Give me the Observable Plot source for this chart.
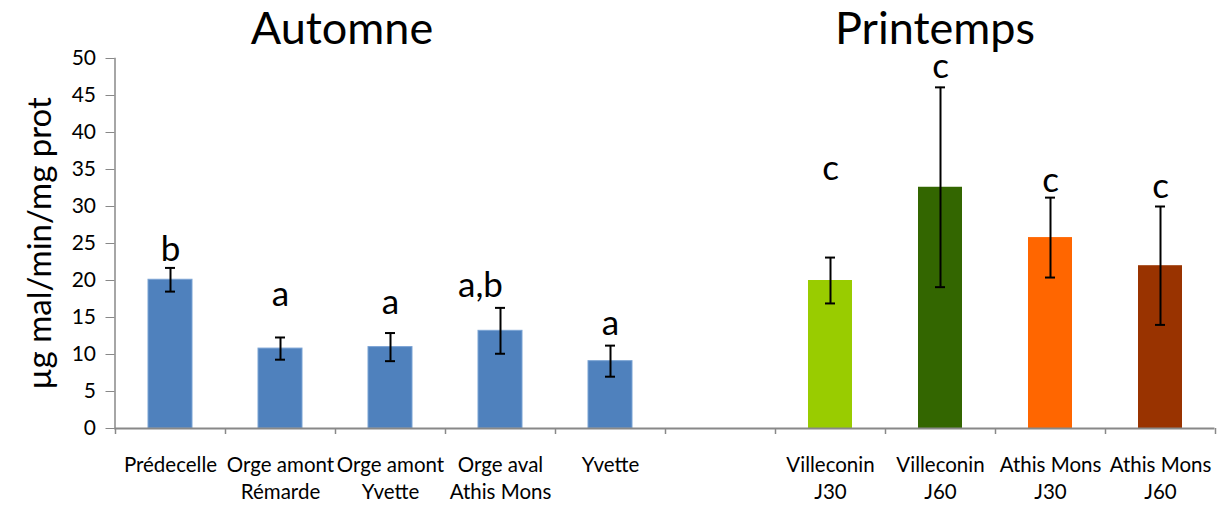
<!DOCTYPE html>
<html><head><meta charset="utf-8">
<script src="https://cdn.jsdelivr.net/npm/d3@7"></script>
<script src="https://cdn.jsdelivr.net/npm/@observablehq/plot@0.6"></script>
<style>
body{margin:0;background:#fff;font-family:Lato,sans-serif;}
#wrap{position:relative;width:1219px;height:505px;}
.title{position:absolute;top:0px;font-size:45px;transform:translateX(-50%);white-space:nowrap;line-height:1.2;color:#000;}
</style></head><body><div id="wrap"></div>
<script>
const categories = ["Prédecelle", "Orge amont\nRémarde", "Orge amont\nYvette", "Orge aval\nAthis Mons", "Yvette", " ", "Villeconin\nJ30", "Villeconin\nJ60", "Athis Mons\nJ30", "Athis Mons\nJ60"];
const means = [20.1, 10.8, 11.0, 13.2, 9.1, null, 20.0, 32.6, 25.8, 22.0];
const errors = [1.6, 1.5, 1.9, 3.1, 2.1, null, 3.1, 13.5, 5.4, 8.0];
const letters = ["b", "a", "a", "a,b", "a", null, "c", "c", "c", "c"];
const letterY = [22.7, 16.6, 15.5, 17.8, 12.7, null, 33.6, 47.3, 31.9, 31.1];
const colors = ["#4F81BD", "#4F81BD", "#4F81BD", "#4F81BD", "#4F81BD", null, "#99CC00", "#336600", "#FF6600", "#993300"];
const yTicks = [0, 5, 10, 15, 20, 25, 30, 35, 40, 45, 50];
const yLabel = "µg mal/min/mg prot";
const seasons = ["Automne", "Printemps"];

const rows = categories.map((c, i) => ({cat: c, mean: means[i], err: errors[i], letter: letters[i], ly: letterY[i], color: colors[i]}))
  .filter(d => d.mean != null);

const W = 1219, H = 505;
const chart = Plot.plot({
  width: W, height: H,
  marginTop: 58, marginBottom: 77, marginLeft: 114.5, marginRight: 4.5,
  style: {fontFamily: "Lato, sans-serif", background: "#fff", color: "#000"},
  x: {type: "band", domain: categories, paddingInner: 0.6, paddingOuter: 0.3, label: null},
  y: {domain: [0, 50], label: null},
  marks: [
    Plot.barY(rows, {x: "cat", y: "mean", fill: "color", stroke: "#7ba3d4", strokeOpacity: d => d.color === "#4F81BD" ? 1 : 0, strokeWidth: 1}),
    Plot.ruleX(rows, {x: "cat", y1: d => d.mean - d.err, y2: d => d.mean + d.err, stroke: "#000", strokeWidth: 2}),
    Plot.tickY(rows, {x: "cat", y: d => d.mean + d.err, stroke: "#000", strokeWidth: 2, insetLeft: 17, insetRight: 17}),
    Plot.tickY(rows, {x: "cat", y: d => d.mean - d.err, stroke: "#000", strokeWidth: 2, insetLeft: 17, insetRight: 17}),
    Plot.text(rows.filter(d => d.letter.length === 1), {x: "cat", y: "ly", text: "letter", lineAnchor: "bottom", fontSize: 35, fill: "#000"}),
    Plot.text(rows.filter(d => d.letter.length > 1), {x: "cat", y: "ly", text: "letter", lineAnchor: "bottom", fontSize: 35, dx: -20, fill: "#000"}),
    Plot.frame({anchor: "left", stroke: "#888", strokeWidth: 1.5}),
    Plot.ruleY([0], {stroke: "#888", strokeWidth: 2}),
    Plot.ruleX(categories, {x: d => d, dx: -55, insetTop: 370, insetBottom: -6, stroke: "#888", strokeWidth: 1.5}),
    Plot.ruleX(categories.slice(-1), {x: d => d, dx: 55, insetTop: 370, insetBottom: -6, stroke: "#888", strokeWidth: 1.5}),
    Plot.axisY({ticks: yTicks, tickSize: 9, stroke: "#888", tickFormat: () => "", label: null}),
    Plot.axisY({ticks: yTicks, tickSize: 0, tickPadding: 19, fontSize: 21, fill: "#000", label: null}),
    Plot.axisX({tickSize: 0, tickPadding: 25, fontSize: 20.5, lineHeight: 1.3, fill: "#000", label: null}),
    Plot.text([yLabel], {frameAnchor: "left", textAnchor: "middle", rotate: -90, dx: -75, dy: 0, fontSize: 33, fill: "#000"})
  ]
});
const wrap = document.getElementById("wrap");
wrap.appendChild(chart);
const titleX = [342, 935];
seasons.forEach((s, i) => {
  const d = document.createElement("div");
  d.className = "title";
  d.style.left = titleX[i] + "px";
  d.textContent = s;
  wrap.appendChild(d);
});
</script>
</body></html>
